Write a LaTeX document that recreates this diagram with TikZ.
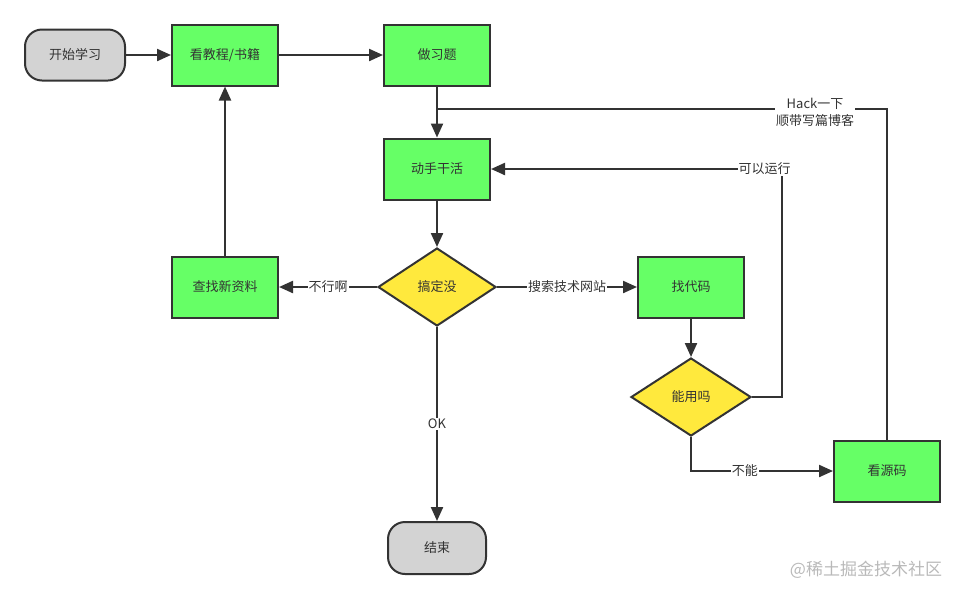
\documentclass[tikz,border=0pt]{standalone}
\usepackage{fontspec}
\setmainfont{Noto Sans CJK SC}
\usetikzlibrary{arrows.meta,shapes.geometric}
\definecolor{boxgreen}{HTML}{66FF66}
\definecolor{decyellow}{HTML}{FFE93D}
\definecolor{termgray}{HTML}{D3D3D3}
\definecolor{linegray}{HTML}{333333}
\begin{document}
\begin{tikzpicture}[x=1pt,y=-1pt,
    font=\fontsize{13}{16}\selectfont,
    every node/.style={text=linegray},
    proc/.style={draw=linegray,line width=2pt,fill=boxgreen,minimum width=106pt,minimum height=61pt,inner sep=0pt},
    decide/.style={draw=linegray,line width=2pt,fill=decyellow,diamond,minimum width=118pt,minimum height=78pt,inner sep=0pt},
    term/.style={draw=linegray,line width=2pt,fill=termgray,rounded corners=17pt,minimum width=100pt,minimum height=51pt,inner sep=0pt},
    arrow/.style={draw=linegray,line width=2.2pt,-{Triangle[length=14pt,width=12pt]}},
    link/.style={draw=linegray,line width=2.2pt},
    lbl/.style={fill=white,inner sep=1pt}]
    \useasboundingbox (0,0) rectangle (965,598);

    % Nodes
    \node[term] (start) at (75,55) {开始学习};
    \node[proc] (tutorial) at (225,55) {看教程/书籍};
    \node[proc] (exercise) at (437,55) {做习题};
    \node[proc] (practice) at (437,169) {动手干活};
    \node[decide] (done) at (437,287) {搞定没};
    \node[proc] (search) at (225,287) {查找新资料};
    \node[proc] (code) at (691,287) {找代码};
    \node[decide,minimum width=120pt] (usable) at (691,397) {能用吗};
    \node[proc] (source) at (887,471) {看源码};
    \node[term,minimum width=98pt,minimum height=52pt] (finish) at (437,548) {结束};
    \coordinate (join) at (437,109);

    % Main flow
    \draw[arrow] (start) -- (tutorial);
    \draw[arrow] (tutorial) -- (exercise);
    \draw[arrow] (exercise) -- (practice);
    \draw[arrow] (practice) -- (done);
    \draw[arrow] (done) -- node[lbl] {不行啊} (search);
    \draw[arrow] (search) -- (tutorial);
    \draw[arrow] (done) -- node[lbl] {搜索技术网站} (code);
    \draw[arrow] (done) -- node[lbl] {OK} (finish);
    \draw[arrow] (code) -- (usable);

    % Loops back
    \draw[arrow] (usable.east) -- ++(30,0) |- node[lbl,pos=0.53] {可以运行} (practice.east);
    \draw[arrow] (usable.south) |- node[lbl,pos=0.69] {不能} (source.west);
    \draw[link] (source.north) |- node[lbl,pos=0.58,align=center,yshift=-3pt,font=\fontsize{13}{17}\selectfont] {Hack一下\\顺带写篇博客} (join);

    % Watermark
    \node[text=gray!55,font=\fontsize{17}{20}\selectfont] (mark) at (866,570) {@稀土掘金技术社区};
\end{tikzpicture}
\end{document}
